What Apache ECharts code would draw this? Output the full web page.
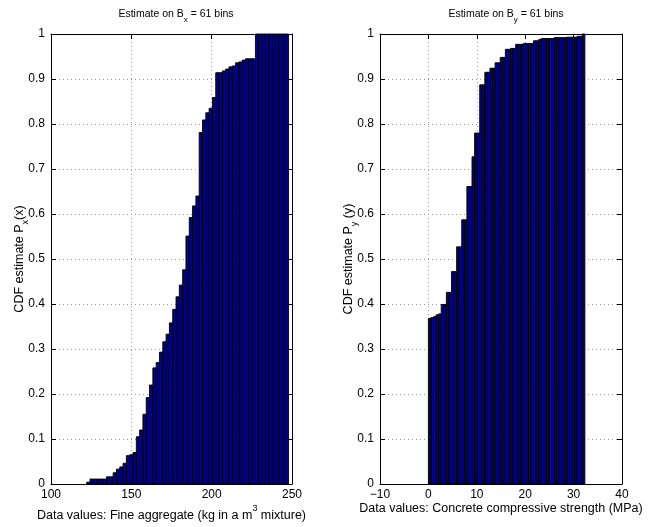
<!DOCTYPE html>
<html><head><meta charset="utf-8">
<script src="https://cdn.jsdelivr.net/npm/echarts@6/dist/echarts.min.js"></script>
<style>html,body{margin:0;padding:0;background:#fff}#c{width:664px;height:527px}</style>
</head><body><div id="c"></div>
<script>
// ---- data ----
const leftBinStart = 122.2;
const leftBinWidth = 2.06;
const leftCdf = [0.004,0.011,0.011,0.011,0.011,0.011,0.016,0.016,0.025,0.033,
  0.038,0.046,0.063,0.065,0.070,0.105,0.120,0.155,0.192,0.220,
  0.258,0.270,0.293,0.316,0.333,0.358,0.388,0.416,0.442,0.476,
  0.551,0.592,0.618,0.640,0.781,0.809,0.825,0.835,0.859,0.914,
  0.914,0.918,0.922,0.927,0.929,0.936,0.938,0.942,0.945,0.945,
  0.945,1,1,1,1,1,1,1,1,1,1];
const rightBinStart = 0.0;
const rightBinWidth = 0.53;
const rightCdf = [0.368,0.370,0.372,0.376,0.378,0.399,0.399,0.426,0.426,0.472,
  0.472,0.527,0.527,0.587,0.587,0.661,0.661,0.727,0.780,0.780,
  0.887,0.887,0.915,0.915,0.924,0.924,0.936,0.936,0.948,0.948,
  0.966,0.966,0.968,0.968,0.977,0.977,0.977,0.979,0.979,0.979,
  0.979,0.985,0.985,0.988,0.990,0.990,0.990,0.990,0.990,0.992,
  0.992,0.992,0.992,0.992,0.993,0.993,0.993,0.993,0.995,0.995,1];
const leftXTicks = {min:100, max:250, interval:50};
const rightXTicks = {min:-10, max:40, interval:10};
const yTicks = {min:0, max:1, interval:0.1};
const leftTitle = 'Estimate on B{sub|x} = 61 bins';
const rightTitle = 'Estimate on B{sub|y} = 61 bins';
const leftYLabel = 'CDF estimate P{sub|x}(x)';
const rightYLabel = 'CDF estimate P{sub|y} (y)';
const leftXLabel = 'Data values: Fine aggregate (kg in a m{sup|3} mixture)';
const rightXLabel = 'Data values: Concrete compressive strength (MPa)';

function bins(start, width, cdf){
  return cdf.map((v,i)=>[start + i*width, start + (i+1)*width, v]);
}

const FONT = 'Liberation Sans';
const rich = {
  sub:{fontSize:9, verticalAlign:'bottom', padding:[0,0,-4,0], fontFamily:FONT, color:'#000'},
  sup:{fontSize:9, verticalAlign:'top', padding:[-5,0,0,0], fontFamily:FONT, color:'#000'}
};
const richT = {
  sub:{fontSize:8, verticalAlign:'bottom', padding:[0,0,-4,0], fontFamily:FONT, color:'#000'}
};
const gridLine = {show:true, lineStyle:{color:'#9a9a9a', type:[1,3], width:1}};
const TICKF = 12, NAMEF = 12.5;

function xAxes(gi, t, name, gap){
  return [{
    type:'value', gridIndex:gi, min:t.min, max:t.max, interval:t.interval,
    position:'bottom',
    axisLine:{show:true, onZero:false, lineStyle:{color:'#000'}},
    axisTick:{show:true, inside:true, length:5, lineStyle:{color:'#000'}},
    axisLabel:{color:'#000', fontSize:TICKF, fontFamily:FONT, margin:5,
      formatter:v=> (v<0? '\u2212'+(-v) : String(v))},
    splitLine:gridLine,
    name:name, nameLocation:'middle', nameGap:gap, nameMoveOverlap:false,
    nameTextStyle:{color:'#000', fontSize:NAMEF, fontFamily:FONT, rich:rich}
  },{
    type:'value', gridIndex:gi, min:t.min, max:t.max, interval:t.interval,
    position:'top',
    axisLine:{show:true, onZero:false, lineStyle:{color:'#000'}},
    axisTick:{show:true, inside:true, length:5, lineStyle:{color:'#000'}},
    axisLabel:{show:false}, splitLine:{show:false}
  }];
}
function yAxes(gi, name, gap){
  return [{
    type:'value', gridIndex:gi, min:yTicks.min, max:yTicks.max, interval:yTicks.interval,
    position:'left',
    axisLine:{show:true, onZero:false, lineStyle:{color:'#000'}},
    axisTick:{show:true, inside:true, length:5, lineStyle:{color:'#000'}},
    axisLabel:{color:'#000', fontSize:TICKF, fontFamily:FONT, margin:6,
      formatter:v=> String(+v.toFixed(1))},
    splitLine:gridLine,
    name:name, nameLocation:'middle', nameGap:gap, nameRotate:90, nameMoveOverlap:false,
    nameTextStyle:{color:'#000', fontSize:NAMEF, fontFamily:FONT, rich:rich}
  },{
    type:'value', gridIndex:gi, min:yTicks.min, max:yTicks.max, interval:yTicks.interval,
    position:'right',
    axisLine:{show:true, onZero:false, lineStyle:{color:'#000'}},
    axisTick:{show:true, inside:true, length:5, lineStyle:{color:'#000'}},
    axisLabel:{show:false}, splitLine:{show:false}
  }];
}

function renderBar(params, api){
  const p0 = api.coord([api.value(0), 0]);
  const p1 = api.coord([api.value(1), api.value(2)]);
  return {type:'rect',
    shape:{x:p0[0], y:p1[1], width:p1[0]-p0[0], height:p0[1]-p1[1]},
    style:{fill:'#00008f', stroke:'#000', lineWidth:0.9}};
}

const chart = echarts.init(document.getElementById('c'), null, {renderer:'canvas'});
chart.setOption({
  animation:false,
  backgroundColor:'#fff',
  title:[
    {text:leftTitle, left:171, top:4, textAlign:'center',
     textStyle:{fontSize:10.5, fontWeight:'normal', fontFamily:FONT, color:'#000', rich:richT}},
    {text:rightTitle, left:501, top:4, textAlign:'center',
     textStyle:{fontSize:10.5, fontWeight:'normal', fontFamily:FONT, color:'#000', rich:richT}}
  ],
  grid:[
    {left:51, top:34, width:241, height:450, show:false},
    {left:380, top:34, width:242, height:450, show:false}
  ],
  xAxis:[...xAxes(0, leftXTicks, leftXLabel, 25), ...xAxes(1, rightXTicks, rightXLabel, 18)],
  yAxis:[...yAxes(0, leftYLabel, 25), ...yAxes(1, rightYLabel, 25)],
  series:[
    {type:'custom', xAxisIndex:0, yAxisIndex:0, renderItem:renderBar,
     encode:{x:[0,1], y:2}, data:bins(leftBinStart, leftBinWidth, leftCdf)},
    {type:'custom', xAxisIndex:2, yAxisIndex:2, renderItem:renderBar,
     encode:{x:[0,1], y:2}, data:bins(rightBinStart, rightBinWidth, rightCdf)}
  ]
});
</script></body></html>
